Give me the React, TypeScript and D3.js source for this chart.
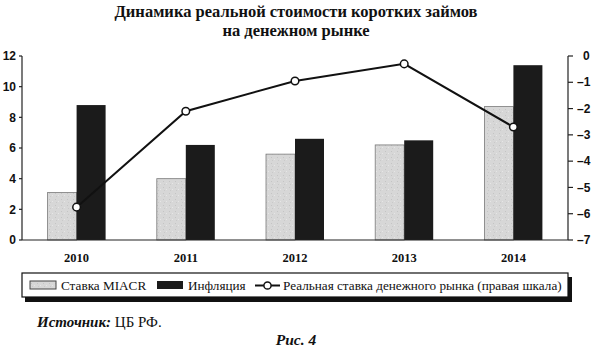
import * as d3 from "d3";

const years = ["2010", "2011", "2012", "2013", "2014"];
const miacr = [3.1, 4.0, 5.6, 6.2, 8.7];
const inflation = [8.8, 6.2, 6.6, 6.5, 11.4];
const realRate = [-5.75, -2.1, -0.95, -0.3, -2.7];
const leftTicks = [0, 2, 4, 6, 8, 10, 12];
const rightTicks = [0, -1, -2, -3, -4, -5, -6, -7];
const seriesKeys = ["miacr", "inflation"];

const W = 595;
const H = 352;
const M = { left: 22, right: 568, top: 56, bottom: 240 };

const SERIF = "'Liberation Serif', 'DejaVu Serif', serif";
const SANS = "'Liberation Sans', Arial, sans-serif";

export default function App() {
  const x = d3.scaleBand<string>().domain(years).range([M.left, M.right]);
  const xInner = d3.scaleBand<string>().domain(seriesKeys).range([0, 58]);
  const yL = d3.scaleLinear().domain([0, 12]).range([M.bottom, M.top]);
  const yR = d3.scaleLinear().domain([-7, 0]).range([M.bottom, M.top]);

  const center = (yr: string) => (x(yr) ?? 0) + x.bandwidth() / 2;
  const barX = (yr: string, key: string) => center(yr) - 29 + (xInner(key) ?? 0);

  const line = d3
    .line<number>()
    .x((_d, i) => center(years[i]))
    .y((d) => yR(d));

  const fmtMinus = (v: number) => (v < 0 ? `–${Math.abs(v)}` : `${v}`);

  return (
    <div style={{ position: "absolute", left: 0, top: 0 }}>
      <svg width={W} height={H} style={{ display: "block", background: "#fff" }}>
        <defs>
          <pattern id="speck" width="6" height="6" patternUnits="userSpaceOnUse">
            <rect width="6" height="6" fill="#d7d7d7" />
            <rect x="1" y="1" width="1" height="1" fill="#c4c4c4" />
            <rect x="4" y="3" width="1" height="1" fill="#e6e6e6" />
            <rect x="2" y="4" width="1" height="1" fill="#c9c9c9" />
          </pattern>
        </defs>

        {/* title */}
        <text x={296} y={17} textAnchor="middle" fontFamily={SERIF} fontWeight="bold" fontSize={16.5} fill="#111">
          Динамика реальной стоимости коротких займов
        </text>
        <text x={296} y={36} textAnchor="middle" fontFamily={SERIF} fontWeight="bold" fontSize={16.5} fill="#111">
          на денежном рынке
        </text>

        {/* bars */}
        {years.map((yr, i) => (
          <g key={yr}>
            <rect
              x={barX(yr, "miacr")}
              y={yL(miacr[i])}
              width={xInner.bandwidth()}
              height={yL(0) - yL(miacr[i])}
              fill="url(#speck)"
              stroke="#7a7a7a"
              strokeWidth={0.8}
            />
            <rect
              x={barX(yr, "inflation")}
              y={yL(inflation[i])}
              width={xInner.bandwidth()}
              height={yL(0) - yL(inflation[i])}
              fill="#1b1b1b"
            />
          </g>
        ))}

        {/* axes */}
        <g stroke="#222" strokeWidth={1.2}>
          <line x1={M.left} x2={M.left} y1={M.top} y2={M.bottom} />
          <line x1={M.right} x2={M.right} y1={M.top} y2={M.bottom} />
          <line x1={M.left} x2={M.right} y1={M.bottom} y2={M.bottom} />
          {leftTicks.map((t) => (
            <line key={`l${t}`} x1={M.left - 3} x2={M.left} y1={yL(t)} y2={yL(t)} />
          ))}
          {rightTicks.map((t) => (
            <line key={`r${t}`} x1={M.right} x2={M.right + 5} y1={yR(t)} y2={yR(t)} />
          ))}
        </g>
        {leftTicks.map((t) => (
          <text key={`lt${t}`} x={16} y={yL(t)} dy="0.35em" textAnchor="end" fontFamily={SANS} fontWeight="bold" fontSize={12} fill="#111">
            {t}
          </text>
        ))}
        {rightTicks.map((t) => (
          <text key={`rt${t}`} x={t === 0 ? 583 : 577} y={yR(t)} dy="0.35em" textAnchor="start" fontFamily={SANS} fontWeight="bold" fontSize={12} fill="#111">
            {fmtMinus(t)}
          </text>
        ))}
        {years.map((yr) => (
          <text key={`y${yr}`} x={center(yr)} y={261.5} textAnchor="middle" fontFamily={SERIF} fontWeight="bold" fontSize={12.5} fill="#111">
            {yr}
          </text>
        ))}

        {/* real rate line */}
        <path d={line(realRate) ?? ""} fill="none" stroke="#111" strokeWidth={2} />
        {realRate.map((v, i) => (
          <circle key={`c${i}`} cx={center(years[i])} cy={yR(v)} r={3.8} fill="#fff" stroke="#111" strokeWidth={1.5} />
        ))}

        {/* legend */}
        <rect x={25} y={277} width={547} height={25} fill="#111" />
        <rect x={22} y={273} width={546} height={24} fill="#fff" stroke="#111" strokeWidth={1.2} />
        <rect x={30} y={281} width={26} height={8} fill="url(#speck)" stroke="#444" strokeWidth={1} />
        <text x={61} y={290} fontFamily={SERIF} fontSize={13.2} fill="#111">Ставка MIACR</text>
        <rect x={157} y={281} width={26} height={8} fill="#1b1b1b" />
        <text x={188} y={290} fontFamily={SERIF} fontSize={13.2} fill="#111">Инфляция</text>
        <line x1={255} x2={280} y1={285.5} y2={285.5} stroke="#111" strokeWidth={2} />
        <circle cx={267.5} cy={285.5} r={3.6} fill="#fff" stroke="#111" strokeWidth={1.5} />
        <text x={283} y={290} fontFamily={SERIF} fontSize={13.2} fill="#111">
          Реальная ставка денежного рынка (правая шкала)
        </text>

        {/* footer */}
        <text x={37} y={327} fontFamily={SERIF} fontSize={15} fill="#111">
          <tspan fontStyle="italic" fontWeight="bold">Источник:</tspan>
          <tspan> ЦБ РФ.</tspan>
        </text>
        <text x={296} y={345} textAnchor="middle" fontFamily={SERIF} fontStyle="italic" fontWeight="bold" fontSize={15.5} fill="#111">
          Рис. 4
        </text>
      </svg>
    </div>
  );
}
